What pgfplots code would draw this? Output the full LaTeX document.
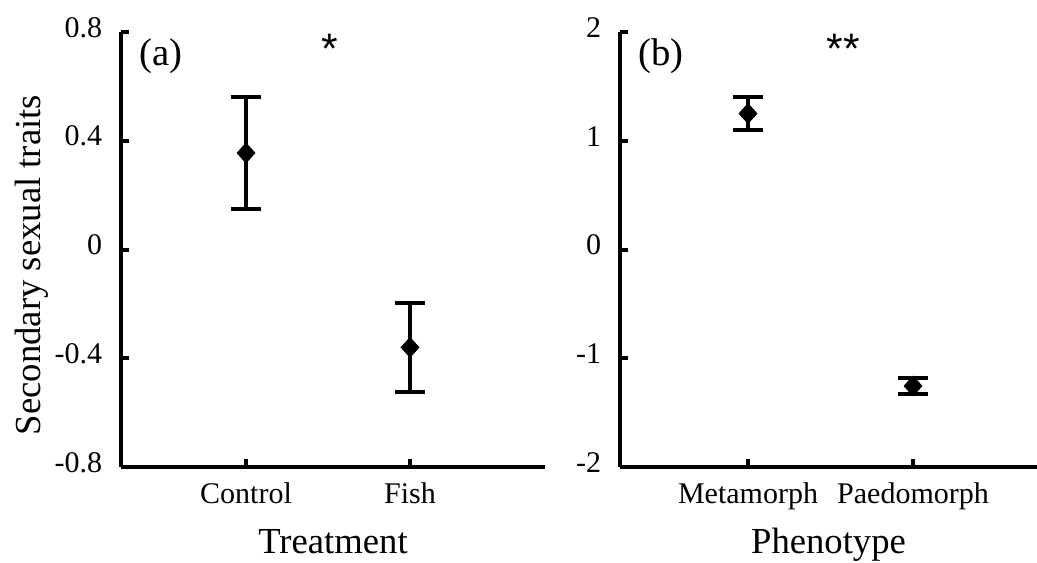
\documentclass[border=0pt]{standalone}
\usepackage{pgfplots}
\pgfplotsset{compat=1.18}
\usepackage{fontspec}
\setmainfont{Liberation Serif}
\newfontfamily\arial{Liberation Sans}

\def\px{0.75pt}

\pgfplotsset{
  panel/.style={
    scale only axis, height=326.25pt,
    axis lines*=left,
    axis line style={line width=3pt},
    major tick style={black, line width=3pt},
    major tick length=6pt, tick align=inside,
    clip=false, xtick={1,2},
    tick label style={font=\fontsize{22.5}{27}\selectfont},
    yticklabel style={anchor=east, inner sep=0pt, xshift=-14pt, yshift=3.5pt},
    xticklabel style={anchor=base, inner sep=0pt, yshift=-27pt},
    label style={font=\fontsize{27.5}{33}\selectfont},
    xlabel style={at={(axis description cs:0.5,-0.1977)}, anchor=base},
  },
  sem/.style={black, line width=3pt, only marks, mark=diamond*, mark size=7.5pt,
    mark options={xscale=1.2, line width=0.5pt, fill=black},
    error bars/.cd, y dir=both, y explicit,
    error bar style={line width=3pt},
    error mark options={rotate=90, mark size=11.6pt, line width=3pt}},
}

\begin{document}
\begin{tikzpicture}
\path[use as bounding box] (0,0) rectangle (1037*\px,-562*\px);

% (a) treatment
\begin{axis}[panel, at={(90.75pt,-350.25pt)}, anchor=south west, width=318pt,
  xmin=0.2378, xmax=2.823, ymin=-0.8, ymax=0.8,
  ytick={-0.8,-0.4,0,0.4,0.8}, yticklabels={-0.8,-0.4,0,0.4,0.8},
  xticklabels={Control,Fish},
  xlabel={Treatment}, ylabel={Secondary sexual traits},
  ylabel style={at={(axis description cs:-0.1887,0.4644)}, anchor=base}]
\addplot[sem] coordinates {(1,0.355) +- (0,0.205) (2,-0.36) +- (0,0.164)};
\end{axis}

% (b) phenotype
\begin{axis}[panel, at={(465pt,-350.25pt)}, anchor=south west, width=312.75pt,
  xmin=0.2242, xmax=2.7515, ymin=-2, ymax=2,
  ytick={-2,-1,0,1,2}, yticklabels={-2,-1,0,1,2},
  xticklabels={Metamorph,Paedomorph},
  xlabel={Phenotype}]
\addplot[sem] coordinates {(1,1.25) +- (0,0.153) (2,-1.255) +- (0,0.077)};
\end{axis}

\node[anchor=base west, inner sep=0pt, font=\fontsize{29}{35}\selectfont] at (139*\px,-65*\px) {(a)};
\node[anchor=base west, inner sep=0pt, font=\fontsize{29}{35}\selectfont] at (638*\px,-65*\px) {(b)};
\node[anchor=base, inner sep=0pt, font=\arial\fontsize{32}{38}\selectfont] at (330*\px,-63*\px) {*};
\node[anchor=base, inner sep=0pt, font=\arial\fontsize{32}{38}\selectfont] at (843*\px,-63*\px) {**};
\end{tikzpicture}
\end{document}
